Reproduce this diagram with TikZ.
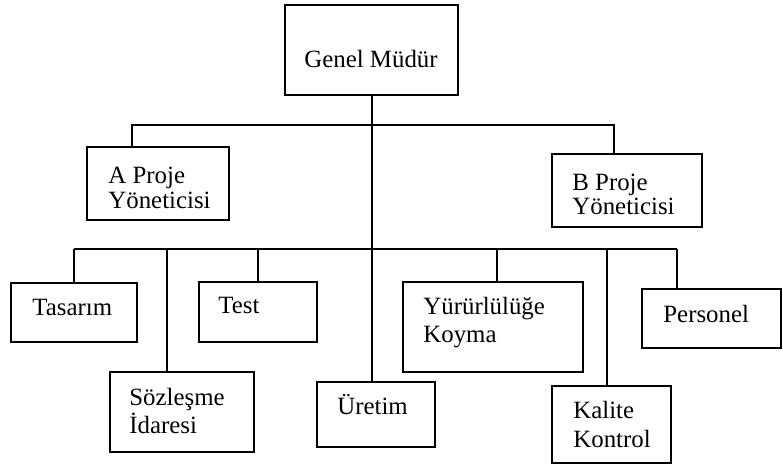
\documentclass[tikz,border=0pt]{standalone}
\usepackage{fontspec}
\setmainfont{Liberation Serif}
\def\px{0.4828pt}
% an org-chart box given by its corner coordinates (in px units)
\newcommand\orgbox[5]{%
  \node[orgbox, minimum width={(#4-#2)*\px}, minimum height={(#5-#3)*\px}]
    (#1) at ({(#2+#4)/2},{(#3+#5)/2}) {};}
\begin{document}
\begin{tikzpicture}[x=\px, y=-\px,
  orgbox/.style={draw=black, line width=1pt, inner sep=0pt, fill=white},
  lbl/.style={anchor=base west, inner sep=0pt, font=\fontsize{12}{14}\selectfont},
  link/.style={draw=black, line width=1pt}]
\useasboundingbox (0,0) rectangle (783,466);

% boxes
\orgbox{gm}{285}{5}{458}{95}
\orgbox{ap}{87}{147}{229}{220}
\orgbox{bp}{552}{154}{702}{227}
\orgbox{ta}{11}{283}{137}{342}
\orgbox{te}{199}{282}{317}{342}
\orgbox{yk}{403}{282}{583}{372}
\orgbox{pe}{642}{289}{781}{348}
\orgbox{so}{110}{372}{254}{452}
\orgbox{ur}{317}{382}{435}{447}
\orgbox{kk}{552}{386}{671}{463}

% labels
\node[lbl] (t-gm) at (304,67) {Genel Müdür};
\node[lbl] (t-ap1) at (108,183) {A Proje};
\node[lbl] (t-ap2) at (108,208) {Yöneticisi};
\node[lbl] (t-bp1) at (572,190) {B Proje};
\node[lbl] (t-bp2) at (572,214) {Yöneticisi};
\node[lbl] (t-ta) at (32,315) {Tasarım};
\node[lbl] (t-te) at (218,313) {Test};
\node[lbl] (t-yk1) at (423,314) {Yürürlülüğe};
\node[lbl] (t-yk2) at (423,342) {Koyma};
\node[lbl] (t-pe) at (663,322) {Personel};
\node[lbl] (t-so1) at (129,405) {Sözleşme};
\node[lbl] (t-so2) at (129,433) {İdaresi};
\node[lbl] (t-ur) at (337,414) {Üretim};
\node[lbl] (t-kk1) at (573,418) {Kalite};
\node[lbl] (t-kk2) at (573,447) {Kontrol};

% bus taps
\coordinate (trunk) at (372,95);
\coordinate (busA) at (132,125);
\coordinate (busB) at (614,125);
\coordinate (ta-tap) at (74,249);
\coordinate (so-tap) at (167,249);
\coordinate (te-tap) at (258,249);
\coordinate (yk-tap) at (497,249);
\coordinate (kk-tap) at (607,249);
\coordinate (pe-tap) at (677,249);

% connectors
\draw[link] (trunk) -- (trunk |- ur.north);
\draw[link] (busA |- ap.north) -- (busA) -- (busB) -- (busB |- bp.north);
\draw[link] (ta-tap) -- (pe-tap);
\draw[link] (ta-tap) -- (ta-tap |- ta.north);
\draw[link] (so-tap) -- (so-tap |- so.north);
\draw[link] (te-tap) -- (te-tap |- te.north);
\draw[link] (yk-tap) -- (yk-tap |- yk.north);
\draw[link] (kk-tap) -- (kk-tap |- kk.north);
\draw[link] (pe-tap) -- (pe-tap |- pe.north);
\end{tikzpicture}
\end{document}
